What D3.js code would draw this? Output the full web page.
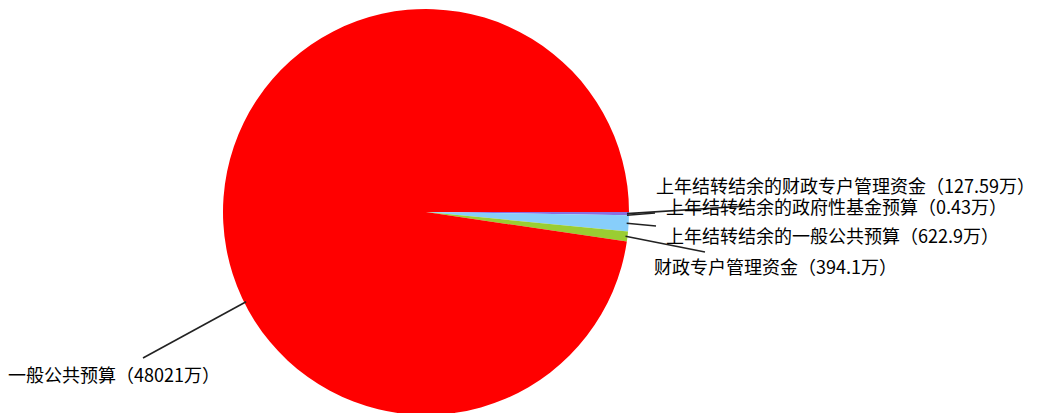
<!DOCTYPE html>
<html>
<head>
<meta charset="utf-8">
<script src="https://cdn.jsdelivr.net/npm/d3@7"></script>
<style>
  body { margin: 0; background: #fff; }
</style>
</head>
<body>
<div id="chart"></div>
<script>
// slices in drawing order (clockwise from 3 o'clock)
const names = [
  "上年结转结余的财政专户管理资金",
  "上年结转结余的政府性基金预算",
  "上年结转结余的一般公共预算",
  "财政专户管理资金",
  "一般公共预算"
];
const values = [127.59, 0.43, 622.9, 394.1, 48021];
const colors = ["#8a6fe0", "#f08080", "#87cefa", "#9acd32", "#ff0000"];

// label layout: text left/center, leader end, optional leader start angle (deg)
const labelLayout = [
  { tx: 656, ty: 185, lx: 747, ly: 206 },
  { tx: 666, ty: 206, lx: 655, ly: 213 },
  { tx: 666, ty: 235, lx: 656, ly: 226 },
  { tx: 654, ty: 266, lx: 705, ly: 252 },
  { tx: 8, ty: 374, lx: 143, ly: 358, angle: 243.5 }
];

const width = 1043;
const height = 413;
const cx = 426;
const cy = 212;
const radius = 203;

const svg = d3
  .select("#chart")
  .append("svg")
  .attr("width", width)
  .attr("height", height)
  .style("font-family", "'Noto Sans CJK SC', sans-serif")
  .style("font-size", "18px");

const chart = svg.append("g").attr("transform", `translate(${cx}, ${cy})`);

const pie = d3
  .pie()
  .sort(null)
  .value((d) => d)
  .startAngle(Math.PI / 2)
  .endAngle(Math.PI / 2 + 2 * Math.PI);

const arcs = pie(values);
const arc = d3.arc().innerRadius(0).outerRadius(radius);
const edgeArc = d3.arc().innerRadius(radius - 2).outerRadius(radius - 2);

chart
  .selectAll("path.slice")
  .data(arcs)
  .enter()
  .append("path")
  .attr("class", "slice")
  .attr("d", arc)
  .attr("fill", (d, i) => colors[i]);

// leader lines
arcs.forEach((d, i) => {
  const lay = labelLayout[i];
  let start;
  if (lay.angle !== undefined) {
    const a = (lay.angle * Math.PI) / 180;
    start = [Math.sin(a) * (radius - 2), -Math.cos(a) * (radius - 2)];
  } else {
    start = edgeArc.centroid(d);
  }
  chart
    .append("line")
    .attr("x1", start[0])
    .attr("y1", start[1])
    .attr("x2", lay.lx - cx)
    .attr("y2", lay.ly - cy)
    .attr("stroke", "#222")
    .attr("stroke-width", 1.6);
});

// labels
svg
  .selectAll("text.label")
  .data(arcs)
  .enter()
  .append("text")
  .attr("class", "label")
  .attr("x", (d, i) => labelLayout[i].tx)
  .attr("y", (d, i) => labelLayout[i].ty)
  .attr("dominant-baseline", "central")
  .attr("fill", "#000")
  .text((d, i) => `${names[i]}（${values[i]}万）`);
</script>
</body>
</html>
